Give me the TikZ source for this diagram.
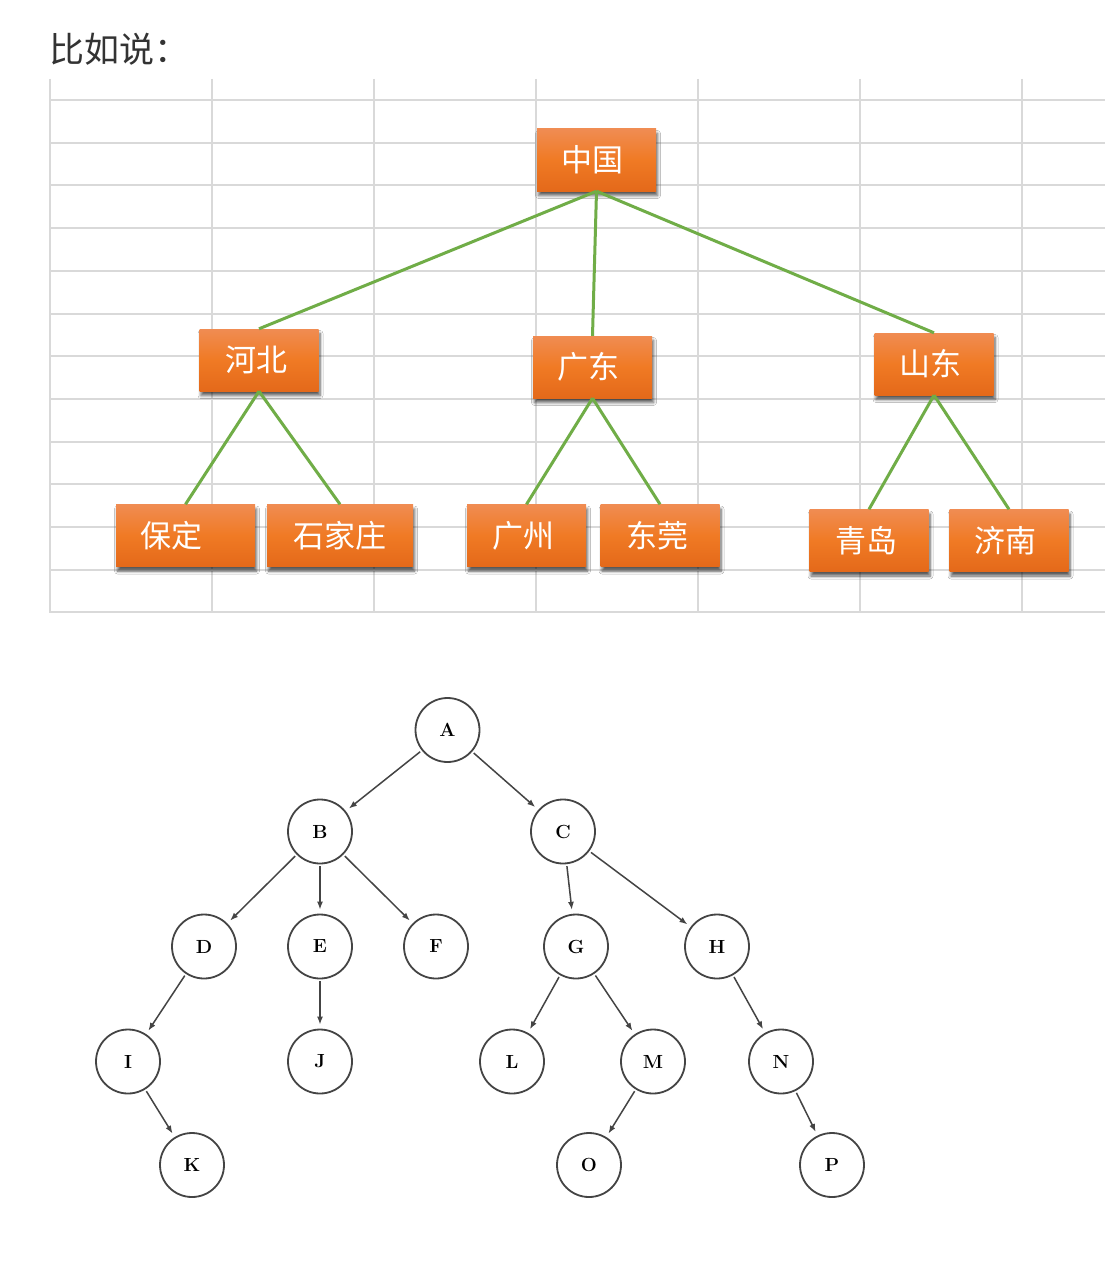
\documentclass[tikz,border=0pt]{standalone}
\usepackage{fontspec}
\newfontfamily\cjk{Noto Sans CJK SC}
\usetikzlibrary{arrows.meta,shadows.blur}
\definecolor{gridgray}{HTML}{D9D9D9}
\definecolor{linkgreen}{HTML}{70AD47}
\definecolor{boxtop}{HTML}{F08C52}
\definecolor{boxmid}{HTML}{F07A24}
\definecolor{boxbot}{HTML}{E4691A}
\definecolor{titlegray}{HTML}{333333}
\definecolor{treegray}{HTML}{444444}
\begin{document}
\begin{tikzpicture}[x=1pt,y=-1pt,
  gridline/.style={gridgray, line width=2pt},
  link/.style={linkgreen, line width=3pt},
  obox/.style={rectangle, inner sep=0pt, minimum width=119pt, minimum height=62pt,
    top color=boxtop, bottom color=boxbot, middle color=boxmid,
    blur shadow={shadow xshift=1.5pt, shadow yshift=-4.5pt, shadow blur radius=3pt,
      shadow blur steps=6, shadow opacity=65},
    text=white, font=\cjk\fontsize{31}{36}\selectfont},
  vtx/.style={circle, draw=treegray, line width=1.8pt, minimum size=64pt, inner sep=0pt,
    font=\fontsize{19}{22}\selectfont\bfseries},
  arc/.style={treegray, line width=1.5pt, -{Latex[length=8pt,width=6pt]},
    shorten <=2pt, shorten >=4pt}]
\useasboundingbox (0,0) rectangle (1105,1271);
\fill[white] (0,0) rectangle (1105,1271);

% heading
\node[anchor=base west, inner sep=0pt, text=titlegray,
  font=\cjk\fontsize{35}{40}\selectfont] (title) at (49,62.5) {比如说：};

% spreadsheet grid behind the chart
\foreach \k in {0,...,6}
  \draw[gridline] (50+162*\k,79) -- (50+162*\k,612.5);
\foreach \k in {0,...,12}
  \draw[gridline] (50,100+42.7*\k) -- (1105,100+42.7*\k);

% org chart boxes
\node[obox] (zg) at (596.5,160) {中国\kern8pt};
\node[obox] (hb) at (259,360) {河北\kern6pt};
\node[obox] (gd) at (592.5,367) {广东\kern8pt};
\node[obox] (sd) at (934,364) {山东\kern8pt};
\node[obox, minimum width=139pt] (bd) at (185.5,535.5) {保定\kern28pt};
\node[obox, minimum width=146pt] (sjz) at (340,535.5) {石家庄};
\node[obox] (gz) at (526.5,535.5) {广州\kern6pt};
\node[obox] (dg) at (660,535.5) {东莞\kern6pt};
\node[obox] (qd) at (869,540.5) {青岛\kern6pt};
\node[obox] (jn) at (1009,540.5) {济南\kern8pt};

% org chart links
\draw[link] (zg.south) -- (hb.north);
\draw[link] (zg.south) -- (gd.north);
\draw[link] (zg.south) -- (sd.north);
\draw[link] (hb.south) -- (bd.north);
\draw[link] (hb.south) -- (sjz.north);
\draw[link] (gd.south) -- (gz.north);
\draw[link] (gd.south) -- (dg.north);
\draw[link] (sd.south) -- (qd.north);
\draw[link] (sd.south) -- (jn.north);

% letter tree
\node[vtx] (A) at (447.5,730) {A};
\node[vtx] (B) at (320,831.5) {B};
\node[vtx] (C) at (563,831.5) {C};
\node[vtx] (D) at (204,946.5) {D};
\node[vtx] (E) at (320,946.5) {E};
\node[vtx] (F) at (436,946.5) {F};
\node[vtx] (G) at (576,946.5) {G};
\node[vtx] (H) at (717,946.5) {H};
\node[vtx] (I) at (128,1061.5) {I};
\node[vtx] (J) at (320,1061.5) {J};
\node[vtx] (L) at (512,1061.5) {L};
\node[vtx] (M) at (653,1061.5) {M};
\node[vtx] (N) at (781,1061.5) {N};
\node[vtx] (K) at (192,1165) {K};
\node[vtx] (O) at (589,1165) {O};
\node[vtx] (P) at (832,1165) {P};

\draw[arc] (A) -- (B);
\draw[arc] (A) -- (C);
\draw[arc] (B) -- (D);
\draw[arc] (B) -- (E);
\draw[arc] (B) -- (F);
\draw[arc] (C) -- (G);
\draw[arc] (C) -- (H);
\draw[arc] (D) -- (I);
\draw[arc] (E) -- (J);
\draw[arc] (G) -- (L);
\draw[arc] (G) -- (M);
\draw[arc] (H) -- (N);
\draw[arc] (I) -- (K);
\draw[arc] (M) -- (O);
\draw[arc] (N) -- (P);
\end{tikzpicture}
\end{document}
